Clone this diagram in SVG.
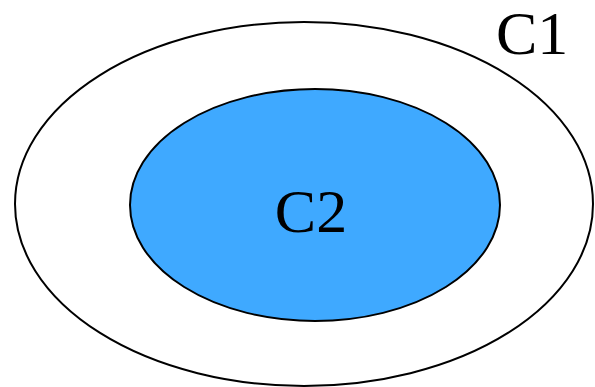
<svg xmlns="http://www.w3.org/2000/svg" width="595" height="387" viewBox="0 0 595 387">
<style>
.e{stroke:#000;stroke-width:2}
text{font-family:'Liberation Serif','Times New Roman',Times,serif;font-size:62px;fill:#000}
</style>
<rect width="595" height="387" fill="#fff"/>
<g id="c1">
<ellipse class="e" cx="304" cy="204" rx="289" ry="182" fill="#fff"/>
<text x="496" y="54" font-family="Liberation Serif, serif">C1</text>
</g>
<g id="c2">
<ellipse class="e" cx="315" cy="205" rx="185" ry="116" fill="#3FA9FF"/>
<text x="311" y="232" text-anchor="middle" font-family="Liberation Serif, serif">C2</text>
</g>
<g id="connectors"/>
</svg>
